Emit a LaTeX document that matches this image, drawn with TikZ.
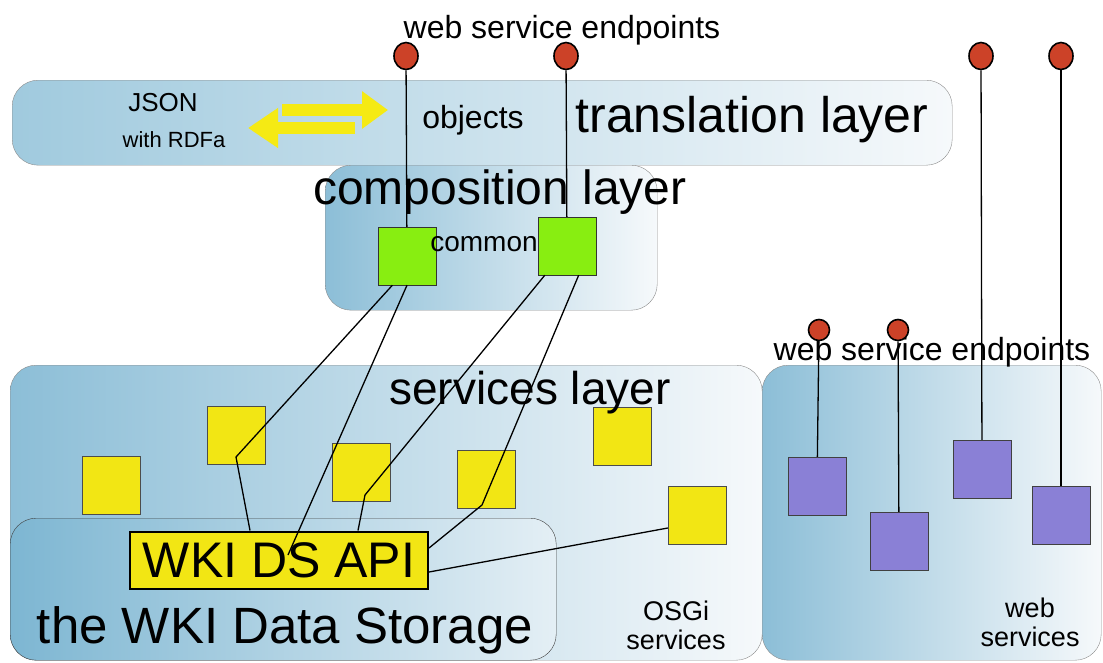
\documentclass[tikz,border=0pt]{standalone}
\usepackage{fontspec}
\setmainfont{Liberation Sans}
\usetikzlibrary{arrows.meta, positioning, shapes.geometric, calc}

\definecolor{layerblue}{RGB}{140,190,215}
\definecolor{paleblue}{RGB}{160,202,222}
\definecolor{deepblue}{RGB}{125,182,210}
\definecolor{fadeblue}{RGB}{246,249,251}
\definecolor{midfade}{RGB}{228,239,245}
\definecolor{svcyellow}{RGB}{242,230,20}
\definecolor{arrowyellow}{RGB}{245,234,20}
\definecolor{compgreen}{RGB}{136,238,17}
\definecolor{wspurple}{RGB}{138,128,214}
\definecolor{endred}{RGB}{204,66,40}

\newcommand{\fsz}[1]{\fontsize{#1}{#1}\selectfont}

\begin{document}
\begin{tikzpicture}[x=1pt, y=-1pt,
    layer/.style={draw=black!45, rounded corners=26pt, left color=layerblue, right color=fadeblue, anchor=north west, inner sep=0pt},
    svc/.style={draw=black!70, fill=svcyellow, minimum width=58pt, minimum height=58pt, inner sep=0pt},
    comp/.style={draw=black!80, fill=compgreen, minimum width=58pt, minimum height=58pt, inner sep=0pt},
    wsvc/.style={draw=black!75, fill=wspurple, minimum width=58pt, minimum height=58pt, inner sep=0pt},
    endpt/.style={ellipse, draw=black, line width=1.6pt, fill=endred, minimum width=24pt, minimum height=27pt, inner sep=0pt},
    endpts/.style={circle, draw=black, line width=1.6pt, fill=endred, minimum size=21pt, inner sep=0pt},
    wire/.style={draw=black, line width=1.3pt},
    ]
    \useasboundingbox (0,0) rectangle (1103,662);

    % layers
    \node[layer, left color=paleblue, minimum width=940pt, minimum height=85pt] (trans) at (12,80) {};
    \node[layer, minimum width=332pt, minimum height=145pt] (comp) at (325,165) {};
    \node[layer, minimum width=752pt, minimum height=295pt] (serv) at (10,365) {};
    \node[layer, minimum width=339pt, minimum height=295pt] (websrv) at (762,365) {};
    \node[layer, draw=black!75, left color=deepblue, right color=midfade, minimum width=546pt, minimum height=142pt] (store) at (10,518) {};

    % JSON <-> objects
    \draw[arrowyellow, line width=12pt, -{Triangle[length=26pt, width=36pt]}] (282,110) -- (388,110);
    \draw[arrowyellow, line width=12pt, -{Triangle[length=30pt, width=38pt]}] (355,128) -- (248,128);

    % services
    \node[svc] (y1) at (111,485) {};
    \node[svc] (y2) at (236,435) {};
    \node[svc] (y3) at (361,472) {};
    \node[svc] (y4) at (486,479) {};
    \node[svc] (y5) at (622,436) {};
    \node[svc] (y6) at (697,515) {};
    \node[draw=black, line width=2pt, fill=svcyellow, minimum width=298pt, minimum height=57pt, inner sep=0pt, font=\fsz{50}] (api) at (279,560) {WKI DS API};

    % composites
    \node[comp] (g1) at (407,256) {};
    \node[comp] (g2) at (567,246) {};

    % web services
    \node[wsvc] (p1) at (817,486) {};
    \node[wsvc] (p2) at (899,541) {};
    \node[wsvc] (p3) at (982,469) {};
    \node[wsvc] (p4) at (1061,515) {};

    % labels
    \node[font=\fsz{32}] (eplbl) at (562,30) {web service endpoints};
    \node[font=\fsz{26}] (json) at (163,103) {JSON};
    \node[font=\fsz{22}] (rdfa) at (174,140) {with RDFa};
    \node[font=\fsz{32}] (objs) at (473,120) {objects};
    \node[font=\fsz{50}] (translbl) at (752,120) {translation layer};
    \node[font=\fsz{48}] (complbl) at (500,192) {composition layer};
    \node[font=\fsz{28}] (common) at (484,244) {common};
    \node[font=\fsz{46}] (servlbl) at (530,393) {services layer};
    \node[font=\fsz{51}] (storelbl) at (285,630) {the WKI Data Storage};
    \node[font=\fsz{27}, align=center] (osgi) at (676,625) {OSGi\\[2pt]services};
    \node[font=\fsz{27}, align=center] (wslbl) at (1030,622) {web\\[2pt]services};
    \node[font=\fsz{32}] (eplbl2) at (932,352) {web service endpoints};

    % endpoints
    \node[endpt] (e1) at (406,56) {};
    \node[endpt] (e2) at (566,56) {};
    \node[endpt] (e3) at (981,56) {};
    \node[endpt] (e4) at (1061,56) {};
    \node[endpts] (e5) at (819,330) {};
    \node[endpts] (e6) at (898,330) {};

    % wiring
    \coordinate (k2) at ($(y2.center)+(0,22)$);
    \coordinate (k3) at ($(y3.center)+(4,23)$);
    \coordinate (k4) at ($(y4.center)+(-4,26)$);
    \coordinate (kd) at (288,555);
    \draw[wire] (e1) -- (g1);
    \draw[wire] (e2) -- (g2);
    \draw[wire] (e3) -- (p3);
    \draw[wire] (e4) -- (p4);
    \draw[wire] (e5) -- (p1);
    \draw[wire] (e6) -- (p2);
    \draw[wire] ($(g1.south west)!0.25!(g1.south east)$) -- (k2) -- (api.north -| 250,0);
    \draw[wire] (g1.south) -- (kd);
    \draw[wire] ($(g2.south west)!0.12!(g2.south east)$) -- (k3) -- (api.north -| 358,0);
    \draw[wire] ($(g2.south west)!0.7!(g2.south east)$) -- (k4) -- ($(api.east)+(0,-12)$);
    \draw[wire] ($(y6.west)+(0,13)$) -- ($(api.east)+(0,12)$);
\end{tikzpicture}
\end{document}
